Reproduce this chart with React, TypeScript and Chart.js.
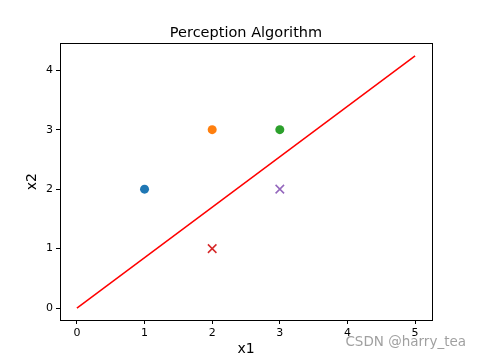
import React, { useEffect, useRef } from "react";
import { Chart, registerables } from "chart.js";

Chart.register(...registerables);

const titleText = "Perception Algorithm";
const xLabel = "x1";
const yLabel = "x2";
const watermark = "CSDN @harry_tea";

const xTicks = [0, 1, 2, 3, 4, 5];
const yTicks = [0, 1, 2, 3, 4];

const circlePoints = [
  { x: 1, y: 2, color: "#1f77b4" },
  { x: 2, y: 3, color: "#ff7f0e" },
  { x: 3, y: 3, color: "#2ca02c" },
];
const crossPoints = [
  { x: 2, y: 1, color: "#d62728" },
  { x: 3, y: 2, color: "#9467bd" },
];
const lineX = [0, 5];
const lineY = [0, 4.24];

const FONT = "'DejaVu Sans', sans-serif";

export default function App() {
  const ref = useRef<HTMLCanvasElement>(null);

  useEffect(() => {
    if (!ref.current) return;

    const framePlugin = {
      id: "frame",
      afterDraw(chart: any) {
        const { ctx, chartArea } = chart;
        ctx.save();
        ctx.strokeStyle = "#000";
        ctx.lineWidth = 1;
        ctx.strokeRect(
          Math.round(chartArea.left) + 0.5,
          Math.round(chartArea.top) + 0.5,
          Math.round(chartArea.right - chartArea.left),
          Math.round(chartArea.bottom - chartArea.top)
        );
        ctx.fillStyle = "rgba(150,150,150,0.9)";
        ctx.font = `13.5px ${FONT}`;
        ctx.textAlign = "right";
        ctx.textBaseline = "middle";
        ctx.fillText(watermark, 466, 342);
        ctx.restore();
      },
    };

    const datasets: any[] = [];
    circlePoints.forEach((p) => {
      datasets.push({
        type: "scatter",
        data: [{ x: p.x, y: p.y }],
        pointStyle: "circle",
        pointRadius: 4.5,
        backgroundColor: p.color,
        borderColor: p.color,
        borderWidth: 0,
      });
    });
    crossPoints.forEach((p) => {
      datasets.push({
        type: "scatter",
        data: [{ x: p.x, y: p.y }],
        pointStyle: "crossRot",
        pointRadius: 6,
        backgroundColor: p.color,
        borderColor: p.color,
        borderWidth: 1.5,
      });
    });
    datasets.push({
      type: "line",
      data: lineX.map((x, i) => ({ x, y: lineY[i] })),
      borderColor: "#ff0000",
      borderWidth: 1.5,
      pointRadius: 0,
      fill: false,
      tension: 0,
    });

    const chart = new Chart(ref.current, {
      type: "scatter",
      data: { datasets },
      options: {
        animation: false,
        responsive: false,
        devicePixelRatio: 1,
        layout: { padding: { left: 0, right: 48, top: 0, bottom: 0 } },
        plugins: {
          legend: { display: false },
          tooltip: { enabled: false },
          title: {
            display: true,
            fullSize: false,
            text: titleText,
            color: "#000",
            font: { family: FONT, size: 14.5, weight: "normal" },
            padding: { top: 25, bottom: 1 },
          },
        },
        scales: {
          x: {
            type: "linear",
            min: -0.25,
            max: 5.25,
            afterBuildTicks: (s: any) => {
              s.ticks = xTicks.map((v) => ({ value: v }));
            },
            afterFit: (s: any) => {
              s.height = 40;
            },
            grid: {
              drawOnChartArea: false,
              drawTicks: true,
              tickLength: 4,
              tickColor: "#000",
            },
            border: { display: true, color: "#000" },
            ticks: {
              color: "#000",
              font: { family: FONT, size: 11 },
              padding: 3,
              maxRotation: 0,
              autoSkip: false,
            },
            title: {
              display: true,
              text: xLabel,
              color: "#000",
              font: { family: FONT, size: 14 },
              padding: { top: 0, bottom: 2 },
            },
          },
          y: {
            type: "linear",
            min: -0.2,
            max: 4.45,
            afterBuildTicks: (s: any) => {
              s.ticks = yTicks.map((v) => ({ value: v }));
            },
            afterFit: (s: any) => {
              s.width = 60;
            },
            grid: {
              drawOnChartArea: false,
              drawTicks: true,
              tickLength: 4,
              tickColor: "#000",
            },
            border: { display: true, color: "#000" },
            ticks: {
              color: "#000",
              font: { family: FONT, size: 11 },
              padding: 3,
              autoSkip: false,
            },
            title: {
              display: true,
              text: yLabel,
              color: "#000",
              font: { family: FONT, size: 14 },
              padding: { top: 24, bottom: 0 },
            },
          },
        },
      },
      plugins: [framePlugin],
    } as any);

    return () => chart.destroy();
  }, []);

  return (
    <div style={{ position: "fixed", left: 0, top: 0, width: 480, height: 360, background: "#fff" }}>
      <canvas ref={ref} width={480} height={360} />
    </div>
  );
}
